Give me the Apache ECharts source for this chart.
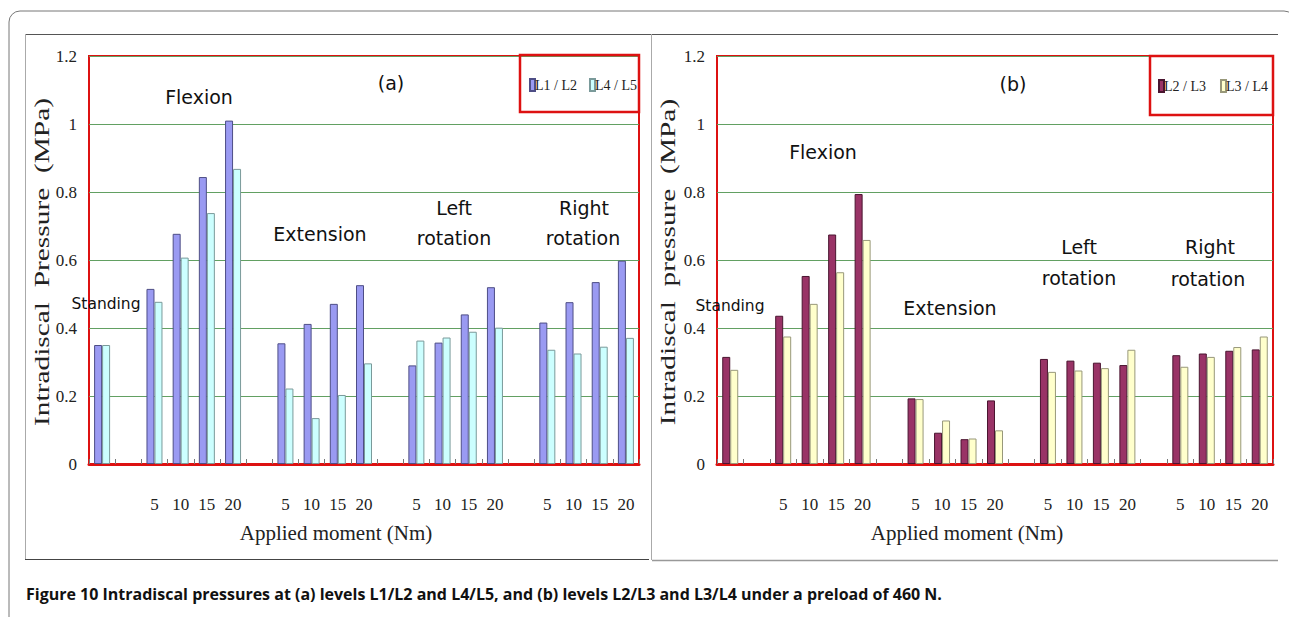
<!DOCTYPE html>
<html>
<head>
<meta charset="utf-8">
<script src="https://cdn.jsdelivr.net/npm/echarts@6/dist/echarts.min.js"></script>
<style>
html,body{margin:0;padding:0;background:#fff;}
#c{width:1289px;height:617px;}
</style>
</head>
<body>
<div id="c"></div>
<script>
// ---- data ----
const categories = ['', '', '5', '10', '15', '20', '', '5', '10', '15', '20', '', '5', '10', '15', '20', '', '5', '10', '15', '20'];
const yTicks = [0, 0.2, 0.4, 0.6, 0.8, 1, 1.2];
const L1L2 = [0.35, null, 0.515, 0.677, 0.844, 1.01, null, 0.355, 0.412, 0.471, 0.526, null, 0.29, 0.357, 0.44, 0.52, null, 0.416, 0.476, 0.535, 0.598];
const L4L5 = [0.35, null, 0.477, 0.607, 0.738, 0.868, null, 0.222, 0.135, 0.203, 0.296, null, 0.363, 0.372, 0.389, 0.401, null, 0.336, 0.325, 0.345, 0.371];
const L2L3 = [0.315, null, 0.436, 0.553, 0.675, 0.794, null, 0.193, 0.092, 0.073, 0.187, null, 0.309, 0.304, 0.298, 0.291, null, 0.320, 0.325, 0.333, 0.337];
const L3L4 = [0.277, null, 0.375, 0.471, 0.564, 0.659, null, 0.191, 0.128, 0.075, 0.099, null, 0.271, 0.275, 0.282, 0.336, null, 0.286, 0.315, 0.344, 0.375];
const seriesNames = ['L1 / L2', 'L4 / L5', 'L2 / L3', 'L3 / L4'];
const caption = 'Figure 10 Intradiscal pressures at (a) levels L1/L2 and L4/L5, and (b) levels L2/L3 and L3/L4 under a preload of 460 N.';

// ---- styling ----
const RED = '#dd1111';
const GREEN = '#62a062';
const SERIF = "'Liberation Serif', 'DejaVu Serif', serif";
const SANS = "'DejaVu Sans', 'Noto Sans', sans-serif";

function xAxis(gi) {
  return {
    type: 'category', gridIndex: gi, data: categories, boundaryGap: true,
    axisLine: {show: true, lineStyle: {color: RED, width: 3}},
    axisTick: {show: true, inside: true, length: 5, interval: 0, alignWithLabel: false, lineStyle: {color: '#777', width: 1}},
    axisLabel: {interval: 0, margin: 32, fontFamily: SERIF, fontSize: 17, color: '#222'},
    name: 'Applied moment (Nm)', nameLocation: 'middle', nameGap: 58,
    nameTextStyle: {fontFamily: SERIF, fontSize: 21, color: '#222', padding: [0, 56, 0, 0]},
    splitLine: {show: false}
  };
}
function yAxis(gi) {
  return {
    type: 'value', gridIndex: gi, min: yTicks[0], max: yTicks[yTicks.length - 1], interval: 0.2,
    axisLine: {show: false}, axisTick: {show: false},
    axisLabel: {margin: 12, fontFamily: SERIF, fontSize: 17, color: '#222'},
    splitLine: {show: true, lineStyle: {color: GREEN, width: 1}}
  };
}
function bar(name, data, gi, fill, border) {
  return {
    name: name, type: 'bar', xAxisIndex: gi, yAxisIndex: gi, data: data,
    barWidth: 8, barGap: '0%',
    itemStyle: {color: fill, borderColor: border, borderWidth: 1},
    emphasis: {disabled: true}, animation: false
  };
}
function txt(x, y, text, size, extra) {
  return Object.assign({
    type: 'text', x: x, y: y, z: 10,
    style: {text: text, fontFamily: SANS, fontSize: size, fill: '#111',
            align: 'center', verticalAlign: 'middle', textAlign: 'center', textVerticalAlign: 'middle'}
  }, extra || {});
}
function line(x1, y1, x2, y2, color, w) {
  return {type: 'line', shape: {x1: x1, y1: y1, x2: x2, y2: y2}, style: {stroke: color, lineWidth: w || 1}, z: 1};
}
const legendText = {fontFamily: SERIF, fontSize: 14, color: '#222', padding: [0, 0, 0, -5]};

const chart = echarts.init(document.getElementById('c'), null, {renderer: 'svg', width: 1289, height: 617});
chart.setOption({
  backgroundColor: '#fff',
  animation: false,
  grid: [
    {left: 89, top: 56, width: 550, height: 408, show: true, borderColor: RED, borderWidth: 2, backgroundColor: 'transparent'},
    {left: 717, top: 56, width: 556, height: 408, show: true, borderColor: RED, borderWidth: 2, backgroundColor: 'transparent'}
  ],
  xAxis: [xAxis(0), xAxis(1)],
  yAxis: [yAxis(0), yAxis(1)],
  legend: [
    {data: [seriesNames[0], seriesNames[1]], left: 524, top: 73, orient: 'horizontal', icon: 'rect',
     itemWidth: 5, itemHeight: 12, itemGap: 12, selectedMode: false, textStyle: legendText},
    {data: [seriesNames[2], seriesNames[3]], left: 1153, top: 74, orient: 'horizontal', icon: 'rect',
     itemWidth: 5, itemHeight: 12, itemGap: 14, selectedMode: false, textStyle: legendText}
  ],
  series: [
    bar(seriesNames[0], L1L2, 0, '#9a9af2', '#4e4e86'),
    bar(seriesNames[1], L4L5, 0, '#ccffff', '#7a9a9a'),
    bar(seriesNames[2], L2L3, 1, '#993366', '#4a1530'),
    bar(seriesNames[3], L3L4, 1, '#ffffcc', '#98987a')
  ],
  graphic: [
    // page frames
    {type: 'rect', shape: {x: 9, y: 11, width: 1286, height: 700, r: 11}, style: {fill: 'none', stroke: '#777', lineWidth: 1}, z: 1},
    line(25, 34.5, 1278, 34.5, '#555', 1),
    line(25.5, 34, 25.5, 559, '#aaa', 1),
    line(25, 559.5, 649, 559.5, '#444', 1.2),
    line(651.5, 34, 651.5, 560, '#aaa', 1),
    line(652, 560.5, 1278, 560.5, '#999', 1.5),
    // legend boxes
    {type: 'rect', shape: {x: 520, y: 55, width: 119, height: 57}, style: {fill: 'none', stroke: RED, lineWidth: 2.5}, z: 5},
    {type: 'rect', shape: {x: 1150, y: 56, width: 123, height: 59}, style: {fill: 'none', stroke: RED, lineWidth: 2.5}, z: 5},
    // y-axis names (stretched serif)
    txt(42, 262, '', 21, {rotation: Math.PI / 2, scaleX: 1.4, style: {text: 'Intradiscal  Pressure  (MPa)', fontFamily: SERIF, fontSize: 21, fill: '#222', align: 'center', verticalAlign: 'middle', textAlign: 'center', textVerticalAlign: 'middle'}}),
    txt(668, 262, '', 21, {rotation: Math.PI / 2, scaleX: 1.4, style: {text: 'Intradiscal  pressure  (MPa)', fontFamily: SERIF, fontSize: 21, fill: '#222', align: 'center', verticalAlign: 'middle', textAlign: 'center', textVerticalAlign: 'middle'}}),
    // panel (a) annotations
    txt(391, 83, '(a)', 19),
    txt(199, 97, 'Flexion', 19),
    txt(320, 234, 'Extension', 19),
    txt(454, 208, 'Left', 19),
    txt(454, 238, 'rotation', 19),
    txt(584, 208, 'Right', 19),
    txt(583, 238, 'rotation', 19),
    txt(106, 304, 'Standing', 15.5),
    // panel (b) annotations
    txt(1013, 84, '(b)', 19),
    txt(823, 152, 'Flexion', 19),
    txt(950, 308, 'Extension', 19),
    txt(1079, 247, 'Left', 19),
    txt(1079, 278, 'rotation', 19),
    txt(1210, 247, 'Right', 19),
    txt(1208, 279, 'rotation', 19),
    txt(730, 306, 'Standing', 15.5),
    // caption
    {type: 'text', x: 26, y: 594, z: 10,
     style: {text: caption, fontFamily: "'Open Sans', 'Noto Sans', sans-serif", fontWeight: 'bold', fontSize: 16, fill: '#111',
             align: 'left', verticalAlign: 'middle', textAlign: 'left', textVerticalAlign: 'middle'}}
  ]
});
</script>
</body>
</html>
